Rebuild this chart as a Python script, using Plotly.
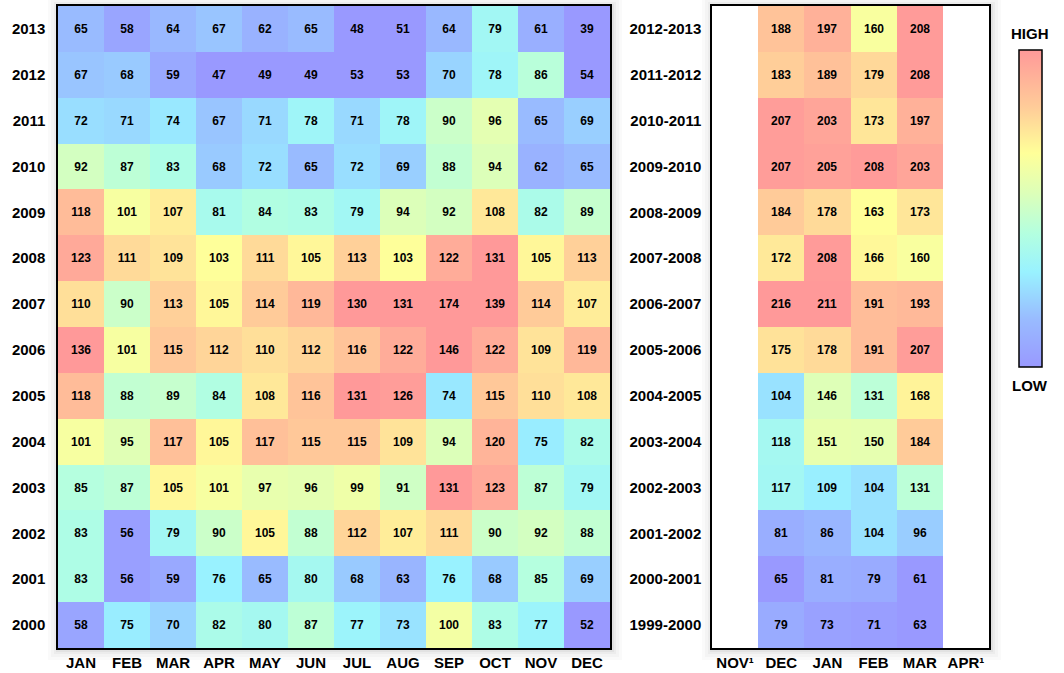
import plotly.graph_objects as go

months = ["JAN", "FEB", "MAR", "APR", "MAY", "JUN", "JUL", "AUG", "SEP", "OCT", "NOV", "DEC"]
years = ["2000", "2001", "2002", "2003", "2004", "2005", "2006",
         "2007", "2008", "2009", "2010", "2011", "2012", "2013"]
monthly = [
    [58, 75, 70, 82, 80, 87, 77, 73, 100, 83, 77, 52],
    [83, 56, 59, 76, 65, 80, 68, 63, 76, 68, 85, 69],
    [83, 56, 79, 90, 105, 88, 112, 107, 111, 90, 92, 88],
    [85, 87, 105, 101, 97, 96, 99, 91, 131, 123, 87, 79],
    [101, 95, 117, 105, 117, 115, 115, 109, 94, 120, 75, 82],
    [118, 88, 89, 84, 108, 116, 131, 126, 74, 115, 110, 108],
    [136, 101, 115, 112, 110, 112, 116, 122, 146, 122, 109, 119],
    [110, 90, 113, 105, 114, 119, 130, 131, 174, 139, 114, 107],
    [123, 111, 109, 103, 111, 105, 113, 103, 122, 131, 105, 113],
    [118, 101, 107, 81, 84, 83, 79, 94, 92, 108, 82, 89],
    [92, 87, 83, 68, 72, 65, 72, 69, 88, 94, 62, 65],
    [72, 71, 74, 67, 71, 78, 71, 78, 90, 96, 65, 69],
    [67, 68, 59, 47, 49, 49, 53, 53, 70, 78, 86, 54],
    [65, 58, 64, 67, 62, 65, 48, 51, 64, 79, 61, 39],
]

season_months = ["NOV¹", "DEC", "JAN", "FEB", "MAR", "APR¹"]
seasons = ["1999-2000", "2000-2001", "2001-2002", "2002-2003", "2003-2004",
           "2004-2005", "2005-2006", "2006-2007", "2007-2008", "2008-2009",
           "2009-2010", "2010-2011", "2011-2012", "2012-2013"]
winter = [
    [79, 73, 71, 63],
    [65, 81, 79, 61],
    [81, 86, 104, 96],
    [117, 109, 104, 131],
    [118, 151, 150, 184],
    [104, 146, 131, 168],
    [175, 178, 191, 207],
    [216, 211, 191, 193],
    [172, 208, 166, 160],
    [184, 178, 163, 173],
    [207, 205, 208, 203],
    [207, 203, 173, 197],
    [183, 189, 179, 208],
    [188, 197, 160, 208],
]
winter_z = [[None] + row + [None] for row in winter]

cscale = [
    [0.0, "#9999ff"],
    [0.15, "#99bbff"],
    [0.3, "#99f2ff"],
    [0.42, "#b3ffe0"],
    [0.55, "#ddffb8"],
    [0.675, "#ffff99"],
    [0.82, "#ffcc99"],
    [1.0, "#ff9999"],
]

W, H = 1064, 673


def px(x):
    return x / W


def py(y):
    return 1 - y / H


FONT = "Liberation Sans, Arial, sans-serif"
cell_font = dict(family=FONT, size=12, color="black", weight="bold")
tick_font = dict(family=FONT, size=15, color="black", weight="bold")

fig = go.Figure()
fig.add_trace(go.Heatmap(
    z=monthly, x=months, y=years, colorscale=cscale, zmin=54, zmax=127,
    texttemplate="%{z}", textfont=cell_font, xaxis="x", yaxis="y",
    showscale=True, hoverinfo="skip",
    colorbar=dict(x=px(1019), xanchor="left", y=py(50), yanchor="top",
                  len=317 / H, lenmode="fraction", thickness=23, thicknessmode="pixels",
                  xpad=0, ypad=0, outlinewidth=1.5, outlinecolor="black",
                  showticklabels=False, ticks=""),
))
fig.add_trace(go.Heatmap(
    z=winter_z, x=season_months, y=seasons, colorscale=cscale, zmin=68, zmax=209,
    texttemplate="%{z}", textfont=cell_font, xaxis="x2", yaxis="y2",
    showscale=False, hoverinfo="skip",
))

ydom = [py(648), py(6)]
axis_common = dict(showline=True, mirror=True, linecolor="black", linewidth=1.5,
                   ticks="", tickfont=tick_font, showgrid=False, zeroline=False,
                   type="category", automargin=False)
fig.update_layout(
    width=W, height=H,
    margin=dict(l=0, r=0, t=0, b=0),
    paper_bgcolor="white", plot_bgcolor="white",
    xaxis=dict(domain=[px(58), px(610)], anchor="y", **axis_common),
    yaxis=dict(domain=ydom, anchor="x", ticklabelstandoff=8, **axis_common),
    xaxis2=dict(domain=[px(712), px(989)], anchor="y2", **axis_common),
    yaxis2=dict(domain=ydom, anchor="x2", ticklabelstandoff=6, **axis_common),
    showlegend=False,
    annotations=[
        dict(text="HIGH", x=px(1030), y=py(33), xref="paper", yref="paper",
             showarrow=False, font=tick_font, xanchor="center", yanchor="middle"),
        dict(text="LOW", x=px(1030), y=py(385), xref="paper", yref="paper",
             showarrow=False, font=tick_font, xanchor="center", yanchor="middle"),
    ],
)


def ring(x0, y0, x1, y1, k):
    ox0, oy0, ox1, oy1 = px(x0 - k), py(max(y0 - k, 0)), px(x1 + k), py(y1 + k)
    ix0, iy0, ix1, iy1 = px(x0), py(y0), px(x1), py(y1)
    return (f"M{ox0},{oy0} L{ox1},{oy0} L{ox1},{oy1} L{ox0},{oy1} Z "
            f"M{ix0},{iy0} L{ix0},{iy1} L{ix1},{iy1} L{ix1},{iy0} Z")


# soft drop shadow around the panels (outside the plot areas only)
shapes = []
for (x0, x1) in [(58, 610), (712, 989)]:
    for k, op in [(10, 0.02), (7, 0.025), (4, 0.03), (2, 0.04)]:
        shapes.append(dict(type="path", xref="paper", yref="paper", layer="below",
                           path=ring(x0, 6, x1 + 2, 650, k),
                           line=dict(width=0), fillcolor="black", opacity=op))
fig.update_layout(shapes=shapes)

fig.write_html("out.html", config={"displayModeBar": False},
               post_script="document.body.style.margin='0';document.body.style.padding='0';")
